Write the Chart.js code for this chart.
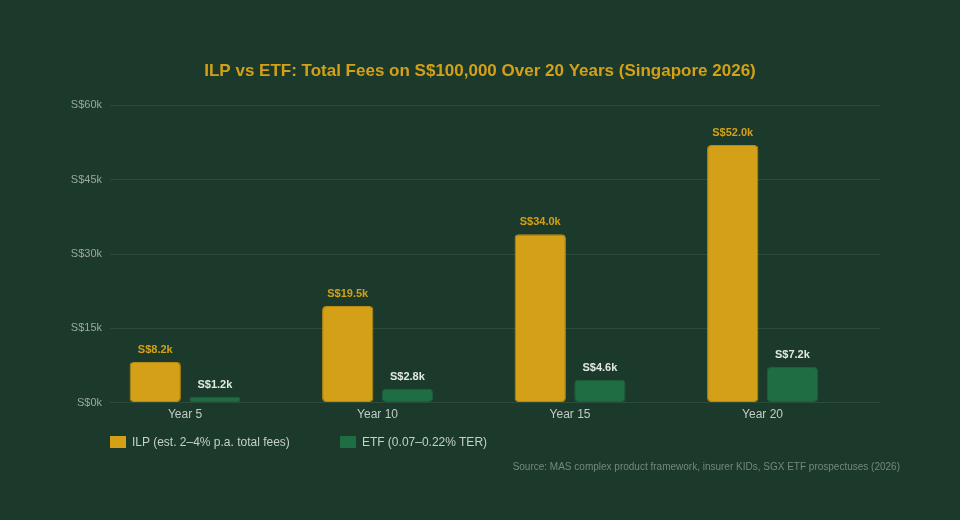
<!DOCTYPE html>
<html>
<head>
<meta charset="utf-8">
<title>ILP vs ETF fees</title>
<script src="https://cdn.jsdelivr.net/npm/chart.js@4.4.1/dist/chart.umd.min.js"></script>
<style>
  html, body { margin: 0; padding: 0; background: #1b3a2b; }
  .wrap { position: relative; width: 960px; height: 520px; font-family: "Liberation Sans", Arial, sans-serif; }
  .legend { position: absolute; left: 110px; top: 435px; display: flex; gap: 50px; font-size: 12px; color: #c8cfca; }
  .legend-item { display: flex; align-items: center; height: 14px; }
  .legend-box { width: 16px; height: 12px; margin-right: 6px; }
  .source { position: absolute; right: 60px; top: 461px; font-size: 10px; color: #74887c; }
</style>
</head>
<body>
<div class="wrap">
  <canvas id="fees-chart"></canvas>
  <div class="legend" id="fees-legend"></div>
  <div class="source">Source: MAS complex product framework, insurer KIDs, SGX ETF prospectuses (2026)</div>
</div>
<script>
// --- data (S$ total fees on S$100,000) ---
const categories = ['Year 5', 'Year 10', 'Year 15', 'Year 20'];
const ilpFees = [8200, 19500, 34000, 52000];
const etfFees = [1200, 2800, 4600, 7200];
const seriesNames = ['ILP (est. 2–4% p.a. total fees)', 'ETF (0.07–0.22% TER)'];
const yTicks = [0, 15000, 30000, 45000, 60000];

const GOLD = '#d4a017';
const GREEN = '#1f6e43';

function fmtK(v) {
  return 'S$' + (v / 1000).toFixed(1) + 'k';
}

// value labels above each bar
const barLabels = {
  id: 'barLabels',
  afterDatasetsDraw(chart) {
    const ctx = chart.ctx;
    ctx.save();
    ctx.font = 'bold 11px "Liberation Sans", Arial, sans-serif';
    ctx.textAlign = 'center';
    ctx.textBaseline = 'middle';
    chart.data.datasets.forEach((ds, di) => {
      const meta = chart.getDatasetMeta(di);
      ctx.fillStyle = di === 0 ? GOLD : '#e2e8e4';
      meta.data.forEach((bar, i) => {
        ctx.fillText(fmtK(ds.data[i].y), bar.x, bar.y - 12);
      });
    });
    ctx.restore();
  }
};

const chart = new Chart(document.getElementById('fees-chart'), {
  type: 'bar',
  data: {
    datasets: [
      {
        label: seriesNames[0],
        data: categories.map((c, i) => ({ x: i, y: ilpFees[i] })),
        backgroundColor: GOLD,
        borderColor: '#b88a14',
        borderWidth: 1,
        borderRadius: 4,
        borderSkipped: false
      },
      {
        label: seriesNames[1],
        data: categories.map((c, i) => ({ x: i, y: etfFees[i] })),
        backgroundColor: GREEN,
        borderColor: '#1b6039',
        borderWidth: 1,
        borderRadius: 4,
        borderSkipped: false
      }
    ]
  },
  options: {
    responsive: true,
    maintainAspectRatio: false,
    animation: false,
    categoryPercentage: 0.62,
    barPercentage: 0.86,
    layout: { padding: { left: 60, right: 60, top: 0, bottom: 93 } },
    plugins: {
      legend: { display: false },
      tooltip: { enabled: false },
      title: {
        display: true,
        text: 'ILP vs ETF: Total Fees on S$100,000 Over 20 Years (Singapore 2026)',
        color: GOLD,
        font: { family: '"Liberation Sans", Arial, sans-serif', size: 17, weight: 'bold' },
        padding: { top: 61, bottom: 24 }
      }
    },
    scales: {
      x: {
        type: 'linear',
        offset: false,
        min: -0.39,
        max: 3.61,
        afterBuildTicks(scale) {
          scale.ticks = categories.map((c, i) => ({ value: i }));
        },
        ticks: {
          color: '#c3cbc6',
          font: { family: '"Liberation Sans", Arial, sans-serif', size: 12 },
          padding: 5,
          callback: (v) => categories[v]
        },
        grid: { display: false, drawTicks: false },
        border: { display: false }
      },
      y: {
        min: 0,
        max: 60000,
        afterBuildTicks(scale) {
          scale.ticks = yTicks.map(v => ({ value: v }));
        },
        afterFit(scale) { scale.width = 50; },
        ticks: {
          color: '#9aa89f',
          font: { family: '"Liberation Sans", Arial, sans-serif', size: 11 },
          padding: 8,
          callback: (v) => 'S$' + (v / 1000) + 'k'
        },
        grid: { color: '#2c4b3b', lineWidth: 1, drawTicks: false },
        border: { display: false }
      },
      // empty right-hand spacer so the plot ends at the same place as the reference
      yRight: {
        position: 'right',
        min: 0,
        max: 60000,
        afterFit(scale) { scale.width = 20; },
        ticks: { display: false },
        grid: { display: false, drawTicks: false },
        border: { display: false }
      }
    }
  },
  plugins: [barLabels]
});

// html legend built from the datasets
const legendEl = document.getElementById('fees-legend');
chart.data.datasets.forEach(ds => {
  const item = document.createElement('div');
  item.className = 'legend-item';
  item.innerHTML = `<span class="legend-box" style="background:${ds.backgroundColor}"></span><span>${ds.label}</span>`;
  legendEl.appendChild(item);
});
</script>
</body>
</html>
